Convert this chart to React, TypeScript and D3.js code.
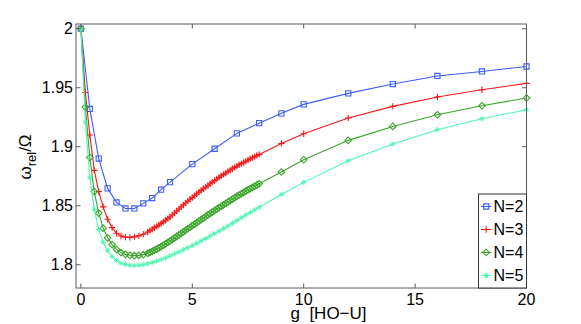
import React from "react";
import * as d3 from "d3";

const xN2 = [0, 0.4, 0.8, 1.2, 1.6, 2.0, 2.4, 2.8, 3.2, 3.6, 4.0, 5, 6, 7, 8, 9, 10, 12, 14, 16, 18, 20];
const yN2 = [2.0, 1.932, 1.89, 1.8647, 1.8528, 1.8477, 1.8477, 1.852, 1.8565, 1.8636, 1.87, 1.8853, 1.8983, 1.9113, 1.92, 1.9283, 1.9359, 1.9452, 1.9531, 1.96, 1.9638, 1.968];

const xDense = [
  0, 0.2, 0.4, 0.6, 0.8, 1.0, 1.2, 1.4, 1.6, 1.8, 2.0, 2.2, 2.4, 2.6, 2.8, 3.0,
  3.1, 3.2, 3.3, 3.4, 3.5, 3.6, 3.7, 3.8, 3.9, 4.0,
  4.1, 4.2, 4.3, 4.4, 4.5, 4.6, 4.7, 4.8, 4.9, 5.0,
  5.1, 5.2, 5.3, 5.4, 5.5, 5.6, 5.7, 5.8, 5.9, 6.0,
  6.1, 6.2, 6.3, 6.4, 6.5, 6.6, 6.7, 6.8, 6.9, 7.0,
  7.1, 7.2, 7.3, 7.4, 7.5, 7.6, 7.7, 7.8, 7.9, 8.0,
  9, 10, 12, 14, 16, 18, 20,
];
const yN3 = [
  2.0, 1.946, 1.91, 1.88, 1.862, 1.849, 1.8385, 1.8315, 1.8267, 1.8243, 1.8234, 1.8232, 1.8236, 1.8245, 1.8259, 1.8277,
  1.8289, 1.8301, 1.8313, 1.8325, 1.8337, 1.835, 1.8363, 1.8377, 1.8391, 1.8405,
  1.8421, 1.8438, 1.8455, 1.8472, 1.8489, 1.8506, 1.8523, 1.8539, 1.8555, 1.857,
  1.8585, 1.86, 1.8615, 1.863, 1.8644, 1.8658, 1.8672, 1.8686, 1.87, 1.8714,
  1.8727, 1.874, 1.8753, 1.8766, 1.8778, 1.879, 1.8802, 1.8814, 1.8825, 1.8836,
  1.8847, 1.8857, 1.8867, 1.8877, 1.8887, 1.8897, 1.8907, 1.8916, 1.8926, 1.8935,
  1.9028, 1.911, 1.9243, 1.9342, 1.9421, 1.9483, 1.9537,
];
const yN4 = [
  2.0, 1.9336, 1.891, 1.862, 1.8438, 1.831, 1.8228, 1.817, 1.813, 1.8103, 1.8088, 1.808, 1.8077, 1.8079, 1.8086, 1.8097,
  1.8105, 1.8114, 1.8123, 1.8133, 1.8143, 1.8154, 1.8165, 1.8177, 1.8189, 1.8201,
  1.8214, 1.8227, 1.824, 1.8253, 1.8266, 1.8279, 1.8292, 1.8305, 1.8318, 1.8331,
  1.8344, 1.8357, 1.837, 1.8383, 1.8396, 1.8409, 1.8422, 1.8435, 1.8447, 1.846,
  1.8472, 1.8484, 1.8496, 1.8508, 1.852, 1.8532, 1.8544, 1.8556, 1.8568, 1.858,
  1.8591, 1.8602, 1.8613, 1.8624, 1.8635, 1.8645, 1.8655, 1.8665, 1.8676, 1.8686,
  1.8786, 1.889, 1.9054, 1.9172, 1.9271, 1.9347, 1.9413,
];

const xN5 = [
  0, 0.2, 0.4, 0.6, 0.8, 1.0, 1.2, 1.4, 1.6, 1.8, 2.0,
  2.2, 2.4, 2.6, 2.8, 3.0, 3.2, 3.4, 3.6, 3.8, 4.0,
  4.2, 4.4, 4.6, 4.8, 5.0, 5.2, 5.4, 5.6, 5.8, 6.0,
  6.2, 6.4, 6.6, 6.8, 7.0, 7.2, 7.4, 7.6, 7.8, 8.0,
  9, 10, 12, 14, 16, 18, 20,
];
const yN5 = [
  2.0, 1.921, 1.874, 1.847, 1.83, 1.819, 1.812, 1.807, 1.8035, 1.8013, 1.8002,
  1.7996, 1.7994, 1.7996, 1.8001, 1.8009, 1.8019, 1.8031, 1.8044, 1.8058, 1.8075,
  1.8092, 1.8109, 1.8127, 1.8145, 1.8164, 1.8183, 1.8202, 1.8222, 1.8243, 1.8264,
  1.8285, 1.8307, 1.8329, 1.8352, 1.8375, 1.8398, 1.8421, 1.8443, 1.8465, 1.8487,
  1.8596, 1.8698, 1.8881, 1.9023, 1.9144, 1.9237, 1.9314,
];

const xTicks = [0, 5, 10, 15, 20];
const yTicks = [1.8, 1.85, 1.9, 1.95, 2.0];
const yTickLabels = ["1.8", "1.85", "1.9", "1.95", "2"];
const seriesNames = ["N=2", "N=3", "N=4", "N=5"];

type Marker = "square" | "plus" | "diamond" | "star";

const series = [
  { name: seriesNames[0], xs: xN2, ys: yN2, color: "#3d5cf7", marker: "square" as Marker },
  { name: seriesNames[1], xs: xDense, ys: yN3, color: "#f01b1b", marker: "plus" as Marker },
  { name: seriesNames[2], xs: xDense, ys: yN4, color: "#3aa52a", marker: "diamond" as Marker },
  { name: seriesNames[3], xs: xN5, ys: yN5, color: "#4ef5b0", marker: "star" as Marker },
];

const W = 581;
const H = 324;
const L = 76, R = 526.5, T = 24, B = 288;

function markerPath(m: Marker, cx: number, cy: number): string {
  if (m === "square") {
    const s = 2.6;
    return `M${cx - s},${cy - s}H${cx + s}V${cy + s}H${cx - s}Z`;
  }
  if (m === "plus") {
    const s = 3.2;
    return `M${cx - s},${cy}H${cx + s}M${cx},${cy - s}V${cy + s}`;
  }
  if (m === "diamond") {
    const s = 3.3;
    return `M${cx},${cy - s}L${cx + s},${cy}L${cx},${cy + s}L${cx - s},${cy}Z`;
  }
  const s = 2.8, d = 1.9;
  return `M${cx - s},${cy}H${cx + s}M${cx},${cy - s}V${cy + s}M${cx - d},${cy - d}L${cx + d},${cy + d}M${cx - d},${cy + d}L${cx + d},${cy - d}`;
}

export default function App() {
  const x = d3.scaleLinear().domain([-0.22, 20]).range([L, R]);
  const y = d3.scaleLinear().domain([1.7803, 2.004]).range([B, T]);
  const line = d3.line<[number, number]>().x((d) => x(d[0])).y((d) => y(d[1]));
  const font = "'Liberation Sans', Arial, Helvetica, sans-serif";
  const axisColor = "#5a5a5a";
  const tl = 4.5;

  const legX = 478.5, legY = 194, legW = R - 478.5, legH = B - 194;
  const legRows = [206.5, 229.5, 252.5, 275.5];

  return (
    <svg width={W} height={H} style={{ position: "absolute", left: 0, top: 0, background: "#fff" }} fontFamily={font}>
      <rect x={0} y={0} width={W} height={H} fill="#fff" />
      {series.map((s) => {
        const pts: [number, number][] = s.xs.map((xv, i) => [xv, s.ys[i]]);
        return (
          <g key={s.name}>
            <path d={line(pts) || ""} fill="none" stroke={s.color} strokeWidth={1.1} />
            {pts.map((p, i) => (
              <path key={i} d={markerPath(s.marker, x(p[0]), y(p[1]))} fill="none" stroke={s.color} strokeWidth={s.marker === "star" ? 0.9 : 1.1} />
            ))}
          </g>
        );
      })}
      <rect x={L} y={T} width={R - L} height={B - T} fill="none" stroke={axisColor} strokeWidth={1} />
      {xTicks.map((t) => (
        <g key={"xt" + t}>
          <line x1={x(t)} x2={x(t)} y1={B} y2={B - tl} stroke={axisColor} />
          <line x1={x(t)} x2={x(t)} y1={T} y2={T + tl} stroke={axisColor} />
          <text x={x(t)} y={305} textAnchor="middle" fontSize={16} fill="#000">{t}</text>
        </g>
      ))}
      {yTicks.map((t, i) => (
        <g key={"yt" + t}>
          <line x1={L} x2={L + tl} y1={y(t)} y2={y(t)} stroke={axisColor} />
          <line x1={R} x2={R - tl} y1={y(t)} y2={y(t)} stroke={axisColor} />
          <text x={73} y={y(t) + 5.6} textAnchor="end" fontSize={16} fill="#000">{yTickLabels[i]}</text>
        </g>
      ))}
      <text x={290.5} y={319} fontSize={17} fill="#000" xmlSpace="preserve">g  [HO−U]</text>
      <text transform="translate(31,157) rotate(-90)" textAnchor="middle" fontSize={17} fill="#000">
        ω<tspan fontSize={13} dy={5}>rel</tspan><tspan dy={-5}>/Ω</tspan>
      </text>
      <rect x={legX} y={legY} width={legW} height={legH} fill="#fff" stroke="#333" strokeWidth={1} />
      {series.map((s, i) => (
        <g key={"leg" + s.name}>
          <line x1={481} x2={491.5} y1={legRows[i]} y2={legRows[i]} stroke={s.color} strokeWidth={1.1} />
          <path d={markerPath(s.marker, 486.2, legRows[i])} fill="none" stroke={s.color} strokeWidth={1.1} />
          <text x={493.5} y={legRows[i] + 5.7} fontSize={16} fill="#000">{s.name}</text>
        </g>
      ))}
    </svg>
  );
}
